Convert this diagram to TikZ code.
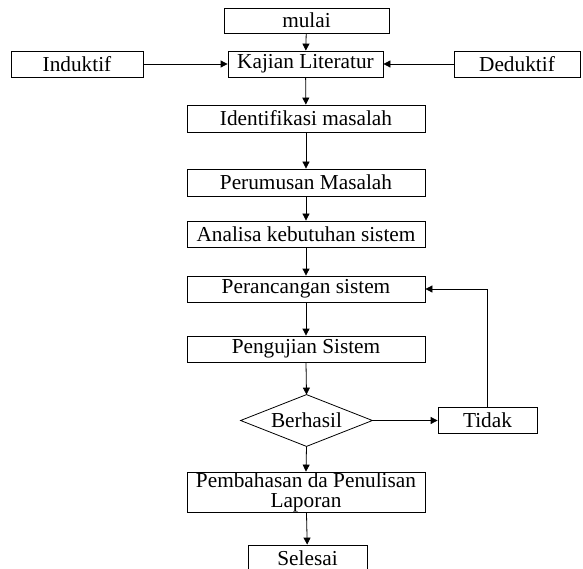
\documentclass[tikz,border=0pt]{standalone}
\usepackage{fontspec}
\setmainfont{Liberation Serif}
\usetikzlibrary{arrows.meta}
\begin{document}
\begin{tikzpicture}[x=1pt,y=-1pt,
  box/.style={draw, line width=0.8pt, inner sep=0pt, align=center,
    font=\fontsize{21.3}{23}\selectfont},
  conn/.style={line width=0.8pt, -{Triangle[length=7pt,width=7pt]}}]
\useasboundingbox (0,0) rectangle (583,569);
\node[box, minimum width=165, minimum height=25] (mulai) at (306.5,20.5) {mulai};
\node[box, minimum width=132, minimum height=26] (ind) at (77,64) {Induktif};
\node[box, minimum width=155, minimum height=26] (kaj) at (305.5,64) {Kajian Literatur};
\node[box, minimum width=126, minimum height=26] (ded) at (517,64) {Deduktif};
\node[box, minimum width=238, minimum height=27] (idf) at (306,118.5) {Identifikasi masalah};
\node[box, minimum width=238, minimum height=27] (per) at (306,182.5) {Perumusan Masalah};
\node[box, minimum width=238, minimum height=26] (ana) at (306,234) {Analisa kebutuhan sistem};
\node[box, minimum width=238, minimum height=26] (ran) at (306,289) {Perancangan sistem};
\node[box, minimum width=238, minimum height=26] (uji) at (306,349) {Pengujian Sistem};
\node[box, draw=none, minimum width=131, minimum height=51] (dec) at (306.5,420.5) {Berhasil};
\draw[line width=0.8pt] (dec.north) -- (dec.east) -- (dec.south) -- (dec.west) -- cycle;
\node[box, minimum width=99, minimum height=26] (tdk) at (487.5,420.5) {Tidak};
\node[box, minimum width=238, minimum height=40] (bah) at (306,492) {Pembahasan da Penulisan\\[-3pt]Laporan};
\node[box, minimum width=119, minimum height=26] (sel) at (307.5,558) {Selesai};
\draw[conn] (mulai) -- (kaj);
\draw[conn] (ind) -- (kaj);
\draw[conn] (ded) -- (kaj);
\draw[conn] (kaj) -- (idf);
\draw[conn] (idf) -- (per);
\draw[conn] (per) -- (ana);
\draw[conn] (ana) -- (ran);
\draw[conn] (ran) -- (uji);
\draw[conn] (uji.south) -- (dec.north);
\draw[conn] (dec.east) -- (tdk.west);
\draw[conn] (tdk.north) |- (ran.east);
\draw[conn] (dec.south) -- (bah.north);
\draw[conn] (bah) -- (sel);
\end{tikzpicture}
\end{document}
